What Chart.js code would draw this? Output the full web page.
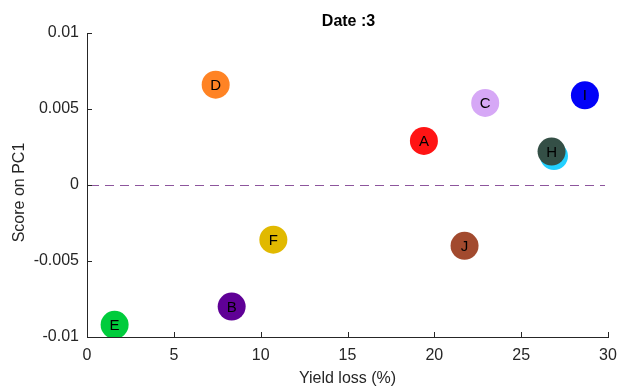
<!DOCTYPE html>
<html>
<head>
<meta charset="utf-8">
<script src="https://cdn.jsdelivr.net/npm/chart.js@4/dist/chart.umd.min.js"></script>
<style>
  html, body { margin: 0; padding: 0; background: #fff; }
  #wrap { width: 617px; height: 388px; position: relative; }
</style>
</head>
<body>
<div id="wrap"><canvas id="c" width="617" height="388"></canvas></div>
<script>
// ---- data ----
const names   = ['A', 'B', 'C', 'D', 'E', 'F', 'G', 'H', 'I', 'J'];
const xValues = [19.40, 8.33, 22.93, 7.41, 1.59, 10.73, 26.89, 26.75, 28.67, 21.74];
const yValues = [0.0029, -0.0080, 0.0054, 0.0066, -0.0092, -0.0036, 0.0019, 0.0022, 0.0059, -0.0040];
const xTicks  = [0, 5, 10, 15, 20, 25, 30];
const yTicks  = [-0.01, -0.005, 0, 0.005, 0.01];
const yTickLabels = ['-0.01', '-0.005', '0', '0.005', '0.01'];
const titleText = 'Date :3';
const xLabel = 'Yield loss (%)';
const yLabel = 'Score on PC1';

// ---- styles ----
const pointColors = ['#ff1414', '#5f0096', '#d6a8f6', '#ff8324', '#00cc3c', '#e1b900',
                     '#22d0ff', '#344f46', '#0202f8', '#a24a2e'];
const axisColor = '#262626';
const FONT = "'Liberation Sans', Arial, Helvetica, sans-serif";

const datasets = names.map((n, i) => ({
  label: n,
  data: [{ x: xValues[i], y: yValues[i] }],
  backgroundColor: pointColors[i],
  borderWidth: 0,
  pointRadius: 14,
  pointHoverRadius: 14,
  order: names.length - i
}));

const extras = {
  id: 'extras',
  beforeDatasetsDraw(chart) {
    const { ctx, chartArea, scales } = chart;
    const y0 = Math.round(scales.y.getPixelForValue(0)) + 0.5;
    ctx.save();
    ctx.strokeStyle = '#8d559d';
    ctx.lineWidth = 1;
    ctx.setLineDash([9, 6]);
    ctx.beginPath();
    ctx.moveTo(chartArea.left + 3, y0);
    ctx.lineTo(chartArea.right - 3, y0);
    ctx.stroke();
    ctx.restore();
  },
  afterDatasetDraw(chart, args) {
    const { ctx } = chart;
    const el = chart.getDatasetMeta(args.index).data[0];
    ctx.save();
    ctx.fillStyle = '#000';
    ctx.font = "15px " + FONT;
    ctx.textAlign = 'center';
    ctx.textBaseline = 'middle';
    ctx.fillText(names[args.index], el.x, el.y + 1);
    ctx.restore();
  },
  afterDraw(chart) {
    const { ctx, chartArea, scales } = chart;
    const tl = 5;
    ctx.save();
    ctx.strokeStyle = axisColor;
    ctx.lineWidth = 1;
    ctx.beginPath();
    xTicks.forEach(v => {
      const px = Math.round(scales.x.getPixelForValue(v)) + 0.5;
      ctx.moveTo(px, chartArea.bottom);
      ctx.lineTo(px, chartArea.bottom - tl);
    });
    yTicks.forEach(v => {
      const py = Math.round(scales.y.getPixelForValue(v)) + 0.5;
      ctx.moveTo(chartArea.left, py);
      ctx.lineTo(chartArea.left + tl, py);
    });
    ctx.stroke();
    // title
    ctx.fillStyle = '#000';
    ctx.font = "bold 16px " + FONT;
    ctx.textAlign = 'center';
    ctx.textBaseline = 'middle';
    ctx.fillText(titleText, (chartArea.left + chartArea.right) / 2 + 1, 21.5);
    // y axis label
    ctx.fillStyle = axisColor;
    ctx.font = "16px " + FONT;
    ctx.translate(19.5, 192.5);
    ctx.rotate(-Math.PI / 2);
    ctx.fillText(yLabel, 0, 0);
    ctx.restore();
  }
};

new Chart(document.getElementById('c'), {
  type: 'scatter',
  data: { datasets },
  options: {
    responsive: false,
    animation: false,
    events: [],
    layout: { autoPadding: false, padding: { left: 0, right: 9, top: 33, bottom: 0 } },
    plugins: {
      legend: { display: false },
      tooltip: { enabled: false },
      title: { display: false }
    },
    scales: {
      x: {
        type: 'linear',
        min: 0, max: 30,
        afterFit(s) { s.height = 51; s.paddingLeft = 0; s.paddingRight = 0; },
        afterBuildTicks(s) { s.ticks = xTicks.map(v => ({ value: v })); },
        grid: { display: false, drawTicks: false },
        border: { display: true, color: axisColor, width: 1 },
        ticks: {
          color: axisColor,
          font: { family: FONT, size: 16 },
          padding: 9,
          maxRotation: 0,
          autoSkip: false,
          callback: v => String(v)
        },
        title: {
          display: true,
          text: xLabel,
          color: axisColor,
          font: { family: FONT, size: 16, lineHeight: 1.2 },
          padding: { top: 0, bottom: 0 }
        }
      },
      y: {
        type: 'linear',
        min: -0.01, max: 0.01,
        afterFit(s) { s.width = 87; s.paddingTop = 0; s.paddingBottom = 0; },
        afterBuildTicks(s) { s.ticks = yTicks.map(v => ({ value: v })); },
        grid: { display: false, drawTicks: false },
        border: { display: true, color: axisColor, width: 1 },
        ticks: {
          color: axisColor,
          font: { family: FONT, size: 16 },
          padding: 8,
          autoSkip: false,
          callback: (v) => yTickLabels[yTicks.findIndex(t => Math.abs(t - v) < 1e-9)] ?? ''
        }
      }
    }
  },
  plugins: [extras]
});
</script>
</body>
</html>
